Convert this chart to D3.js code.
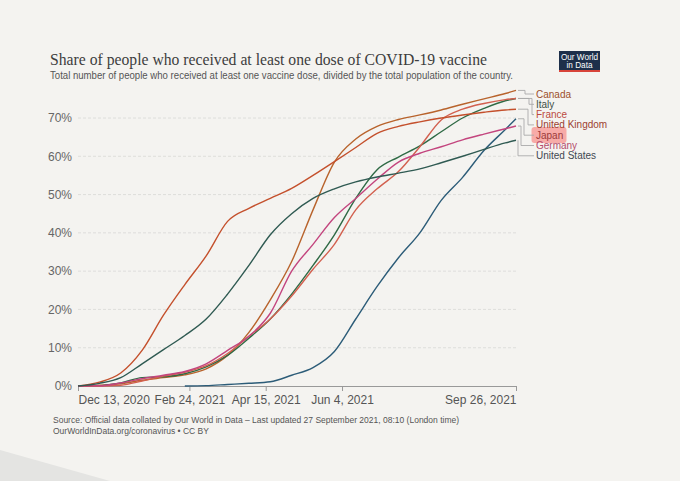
<!DOCTYPE html>
<html><head><meta charset="utf-8">
<script src="https://cdn.jsdelivr.net/npm/d3@7"></script>
<style>
html,body{margin:0;padding:0;background:#f4f3f0;}
svg{display:block;}
</style></head>
<body>
<svg id="c" width="680" height="481"></svg>
<script>
// ---- data ----
const dates = ["2020-12-13","2020-12-27","2021-01-10","2021-01-24","2021-02-07","2021-02-21","2021-03-07","2021-03-21","2021-04-04","2021-04-18","2021-05-02","2021-05-16","2021-05-30","2021-06-13","2021-06-27","2021-07-11","2021-07-25","2021-08-08","2021-08-22","2021-09-05","2021-09-19","2021-09-26"];
const countries = ["Canada","Italy","France","United Kingdom","Japan","Germany","United States"];
const canada  = [0,0.2,0.6,1.5,2.2,2.9,4.5,8.0,14.0,22.5,32.5,46.0,58.5,64.5,67.8,69.6,70.8,72.1,73.6,75.0,76.4,77.2];
const italy   = [0,0.1,0.8,2.2,2.4,3.2,5.0,8.0,12.5,17.5,24.0,31.5,39.5,49.0,56.5,59.8,62.7,66.4,70.0,72.5,74.5,75.1];
const france  = [0,0,0.2,1.3,2.6,3.6,5.3,8.5,13.0,17.5,23.5,30.5,37.0,46.0,51.5,56.0,62.5,69.5,72.3,73.8,74.8,75.1];
const uk      = [0,1.0,3.4,9.3,18.5,26.5,34.0,43.0,46.4,49.0,51.6,55.0,58.6,62.3,66.0,67.8,69.0,70.0,70.8,71.5,72.1,72.3];
const japan   = [null,null,null,null,null,0,0.1,0.4,0.7,1.1,2.8,4.8,9.0,17.5,26.0,33.5,40.0,48.5,54.5,61.5,67.0,69.8];
const germany = [0,0.05,0.8,1.9,2.8,3.8,5.8,9.3,13.0,19.0,30.0,37.0,44.0,49.0,54.0,58.5,60.8,62.5,64.3,65.8,67.2,67.9];
const us      = [0,0.7,2.2,5.8,9.5,13.2,17.5,24.0,31.5,39.5,45.0,49.0,51.5,53.3,54.6,55.6,56.7,58.3,60.0,61.8,63.5,64.2];
const xTickLabels = ["Dec 13, 2020","Feb 24, 2021","Apr 15, 2021","Jun 4, 2021","Sep 26, 2021"];
const yTicks = [0,10,20,30,40,50,60,70];

const seriesValues = [canada, italy, france, uk, japan, germany, us];
const lineColors  = ["#b8632c","#2f6a45","#d2604f","#c4502c","#2c5c78","#c3457e","#2f5a52"];
const labelColors = ["#9c4f2c","#3e4f46","#bb4a40","#9c3f30","#9c3a3a","#b44d6c","#3f4852"];

const parse = d3.timeParse("%Y-%m-%d");
const tickParse = d3.timeParse("%b %d, %Y");
const D = dates.map(parse);

const svg = d3.select("#c");
const SANS = "Liberation Sans, Arial, sans-serif";

// paper edge (bottom-left)
svg.append("path").attr("d","M0,450 L0,481 L110,481 Z").attr("fill","#e4e4e2");

const x = d3.scaleTime().domain([D[0], D[D.length-1]]).range([78, 516]);
const y = d3.scaleLinear().domain([0,70]).range([386, 118]);

// title
svg.append("text").attr("x",50).attr("y",64.5)
  .attr("font-family","Liberation Serif, serif").attr("font-size",17.5).attr("fill","#3d3d3d")
  .attr("textLength",437).attr("lengthAdjust","spacingAndGlyphs")
  .text("Share of people who received at least one dose of COVID-19 vaccine");
svg.append("text").attr("x",50).attr("y",78.5)
  .attr("font-family",SANS).attr("font-size",10).attr("fill","#555")
  .attr("textLength",463).attr("lengthAdjust","spacingAndGlyphs")
  .text("Total number of people who received at least one vaccine dose, divided by the total population of the country.");

// logo
const lg = svg.append("g");
lg.append("rect").attr("x",559).attr("y",51).attr("width",41).attr("height",21).attr("fill","#1d2f4a");
lg.append("rect").attr("x",559).attr("y",70).attr("width",41).attr("height",2).attr("fill","#d8443a");
lg.append("text").attr("x",579.5).attr("y",59.5).attr("text-anchor","middle").attr("fill","#fff")
  .attr("font-family",SANS).attr("font-size",8.2).text("Our World");
lg.append("text").attr("x",579.5).attr("y",68).attr("text-anchor","middle").attr("fill","#fff")
  .attr("font-family",SANS).attr("font-size",8.2).text("in Data");

// grid + y axis
const yAxis = d3.axisLeft(y).tickValues(yTicks).tickFormat(d => d + "%").tickSize(0);
const ga = svg.append("g").attr("transform","translate(78,0)").call(yAxis);
ga.select(".domain").remove();
ga.selectAll("text").attr("x",-6).attr("font-family",SANS)
  .attr("font-size",12).attr("fill","#666");
svg.append("g").selectAll("line").data(yTicks.filter(v => v > 0)).join("line")
  .attr("x1",78).attr("x2",516).attr("y1",d => y(d)).attr("y2",d => y(d))
  .attr("stroke","#d8d8d6").attr("stroke-dasharray","3,2").attr("stroke-width",0.8);

// x axis
const tickDates = xTickLabels.map(tickParse);
const xAxis = d3.axisBottom(x).tickValues(tickDates).tickSize(5).tickFormat(d3.timeFormat("%b %-d, %Y"));
const gx = svg.append("g").attr("transform","translate(0,386)").call(xAxis);
gx.select(".domain").attr("stroke","#999").attr("d","M78,0.5H516");
gx.selectAll(".tick line").attr("stroke","#999");
gx.selectAll("text").attr("font-family",SANS).attr("font-size",12)
  .attr("fill","#555").attr("y",9)
  .attr("text-anchor",(d,i) => i === 0 ? "start" : (i === tickDates.length-1 ? "end" : "middle"));

// lines
const line = d3.line().defined(d => d.v !== null).x(d => x(d.d)).y(d => y(d.v)).curve(d3.curveMonotoneX);
const gl = svg.append("g");
seriesValues.forEach((vals, i) => {
  gl.append("path").datum(vals.map((v, j) => ({d: D[j], v})))
    .attr("d", line).attr("fill","none").attr("stroke", lineColors[i]).attr("stroke-width",1.4);
});

// labels with connectors
const labelY = [94, 104.3, 114.6, 124.9, 135.2, 145.5, 155.8];
const stepX  = [525, 529, 532, 528, 524, 521, 518];
// highlight on Japan
svg.append("rect").attr("x",531.5).attr("y",127).attr("width",35).attr("height",16).attr("rx",3)
  .attr("fill","#f7a3a0").attr("opacity",0.9);
const gc = svg.append("g");
seriesValues.forEach((vals, i) => {
  const ey = y(vals[vals.length-1]);
  gc.append("path").attr("d", `M518,${ey}H${stepX[i]}V${labelY[i]}H534`)
    .attr("fill","none").attr("stroke","#aaa").attr("stroke-width",0.9);
  gc.append("text").attr("x",536).attr("y",labelY[i]+3.5)
    .attr("font-family",SANS).attr("font-size",10)
    .attr("fill",labelColors[i]).text(countries[i]);
});

// source
svg.append("text").attr("x",53).attr("y",423)
  .attr("font-family",SANS).attr("font-size",8.5).attr("fill","#555")
  .text("Source: Official data collated by Our World in Data – Last updated 27 September 2021, 08:10 (London time)");
svg.append("text").attr("x",53).attr("y",433.5)
  .attr("font-family",SANS).attr("font-size",8.5).attr("fill","#555")
  .text("OurWorldInData.org/coronavirus • CC BY");
</script>
</body></html>
